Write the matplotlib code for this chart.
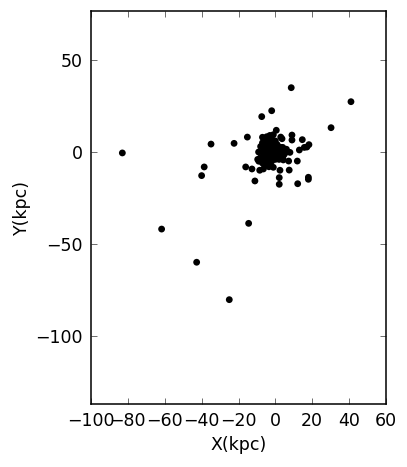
import matplotlib
matplotlib.use("Agg")
import matplotlib.pyplot as plt
import numpy as np

# Outlying / resolvable points (kpc)
outer_x = [-83.0, -61.7, -42.7, -25.0, -14.5, 8.6, 41.0, 30.2, -2.0, -7.4,
           -34.9, -22.4, -38.6, -40.0, -15.2, -16.1, -12.7, -11.1, -8.5, -6.5,
           -9.1, -9.6, -1.1, 2.5, 2.1, 2.1, 7.2, 7.5, 11.9, 12.1,
           17.9, 17.9, 9.0, 9.0, 14.6, 13.0, 15.7, 17.1, 18.2, 0.5,
           2.9, 3.6, -1.1, -4.7, 4.0, 6.1, 7.9, 4.3, -4.7, 4.3]
outer_y = [-0.5, -41.8, -59.8, -80.1, -38.7, 34.9, 27.3, 13.2, 22.4, 19.2,
           4.3, 4.7, -8.1, -12.8, 8.1, -8.1, -9.2, -15.7, -9.9, -9.2,
           0.0, -4.0, -8.3, -9.9, -13.9, -17.5, -4.9, -9.8, -4.9, -17.2,
           -13.7, -14.8, 9.2, 6.5, 6.7, 1.1, 2.5, 2.7, 4.0, 11.8,
           8.1, 7.2, 9.4, 8.3, 2.5, 0.2, -0.2, -4.3, -7.0, -2.0]

# Dense central cluster (kpc)
core_x = [-7, -6, -5, -4, -3, -2, -1, 0, 1, -6, -5, -4, -3, -2, -1, 0, 1, 2, 3, 4,
          5, -7, -6, -5, -4, -3, -2, -1, 0, 1, 2, 3, -6, -5, -4, -3, -2, -1, 0, 1,
          2, -8, -8, -7, -3, 0, -1, -2, -4, -5, 3, 5, 6, -7, -3, 1, -0.5, -9, -3.5]
core_y = [5, 6.5, 7.5, 4, 6, 7, 5, 6, 4, 2, 3, 1, 2.5, 1, 2, 1.5, 2, 1, 0.5, 0,
          1, 0, -1, -2, -1, -0.5, -2, -1, -0.5, -1.5, -2, -1, -4, -5, -3.5, -4, -5, -3.5, -4, -3,
          -4, -3, 3, -6, -6.5, 3, 0, 3.5, 5.5, 0.5, 2.5, -1, 1.5, 8, 9, 0, -2.5, -5, -8]

xs = np.array(outer_x + core_x)
ys = np.array(outer_y + core_y)

plt.rcParams['font.family'] = ['DejaVu Sans']
fig = plt.figure(figsize=(4.07, 4.67), dpi=100)
fig.patch.set_facecolor('white')
ax = fig.add_axes([91/407, 63/467, 295/407, 393/467])

ax.scatter(xs, ys, s=24, color='black', edgecolors='none', zorder=3)

ax.set_xlim(-100, 60)
ax.set_ylim(-136.7, 76.5)
ax.set_xticks([-100, -80, -60, -40, -20, 0, 20, 40, 60])
ax.set_yticks([-100, -50, 0, 50])
ax.set_xticklabels(['\u2212100', '\u221280', '\u221260', '\u221240', '\u221220', '0', '20', '40', '60'])
ax.set_yticklabels(['\u2212100', '\u221250', '0', '50'])

ax.tick_params(direction='in', length=4.5, width=0.6, colors='#555555', labelcolor='black',
               top=True, right=True, labelsize=12.5, pad=6)
for sp in ax.spines.values():
    sp.set_linewidth(1.1)
    sp.set_color('black')

ax.set_xlabel('X(kpc)', fontsize=12.5, labelpad=4)
ax.set_ylabel('Y(kpc)', fontsize=12.5, labelpad=3)

fig.savefig('out.png', dpi=100, facecolor='white')
